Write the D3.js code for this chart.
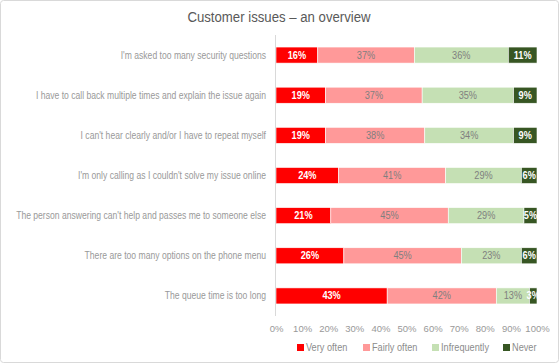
<!DOCTYPE html>
<html><head><meta charset="utf-8">
<script src="https://cdn.jsdelivr.net/npm/d3@7"></script>
<style>body{margin:0;background:#fff}svg{display:block}</style>
</head><body><svg id="c" width="559" height="363"></svg>
<script>
const categories = [
  "I'm asked too many security questions",
  "I have to call back multiple times and explain the issue again",
  "I can't hear clearly and/or I have to repeat myself",
  "I'm only calling as I couldn't solve my issue online",
  "The person answering can't help and passes me to someone else",
  "There are too many options on the phone menu",
  "The queue time is too long"
];
const seriesNames = ["Very often", "Fairly often", "Infrequently", "Never"];
const veryOften    = [16, 19, 19, 24, 21, 26, 42.6];
const fairlyOften  = [37, 37, 38, 41, 45, 45, 41.8];
const infrequently = [36, 35, 34, 29, 29, 23, 12.7];
const never        = [11, 9, 9, 6, 5, 6, 2.9];
const tickValues = [0,10,20,30,40,50,60,70,80,90,100];

const colors = ["#FF0000", "#FF9999", "#C5E0B4", "#375623"];
const labelColors = ["#ffffff", "#7f7f7f", "#7f7f7f", "#ffffff"];
const labelWeights = ["bold", "normal", "normal", "bold"];
const FONT = "'Liberation Sans',sans-serif";

const svg = d3.select("#c");
svg.append("rect").attr("x",0.5).attr("y",0.5).attr("width",558).attr("height",362)
  .attr("rx",3).attr("fill","#fff").attr("stroke","#d9d9d9");

// title, compressed horizontally to mimic a narrow font
const tg = svg.append("g").attr("transform","translate(279,22) scale(0.88,1)");
tg.append("text").attr("text-anchor","middle")
  .attr("font-family",FONT).attr("font-size",15).attr("fill","#595959")
  .text("Customer issues \u2013 an overview");

const x = d3.scaleLinear().domain([0,100]).range([276,537]);
const y = d3.scaleBand().domain(categories).range([35,316]).paddingInner(0.6).paddingOuter(0.3);

const data = categories.map((c,i)=>({cat:c, "Very often":veryOften[i], "Fairly often":fairlyOften[i], "Infrequently":infrequently[i], "Never":never[i]}));
const stack = d3.stack().keys(seriesNames)(data);

const g = svg.append("g");
stack.forEach((layer,si)=>{
  const lg = g.append("g");
  lg.selectAll("rect").data(layer).join("rect")
    .attr("x",d=>x(d[0])).attr("width",d=>x(d[1])-x(d[0]))
    .attr("y",d=>y(d.data.cat)).attr("height",y.bandwidth())
    .attr("fill",colors[si]).attr("stroke","#fff").attr("stroke-width",0.6);
  lg.selectAll("text").data(layer).join("text")
    .attr("transform",d=>`translate(${(x(d[0])+x(d[1]))/2},${y(d.data.cat)+y.bandwidth()/2+3.5}) scale(0.92,1)`)
    .attr("text-anchor","middle").attr("font-family",FONT).attr("font-size",10)
    .attr("font-weight",labelWeights[si]).attr("fill",labelColors[si])
    .text(d=>Math.round(d[1]-d[0])+"%");
});

// y axis line
svg.append("line").attr("x1",275.5).attr("x2",275.5).attr("y1",35).attr("y2",316)
  .attr("stroke","#d9d9d9");

// category labels (compressed horizontally)
svg.append("g").selectAll("text").data(categories).join("text")
  .attr("transform",d=>`translate(266,${y(d)+y.bandwidth()/2+3.5}) scale(0.86,1)`)
  .attr("text-anchor","end")
  .attr("font-family",FONT).attr("font-size",10).attr("fill","#999999").text(d=>d);

// x axis
const xAxis = d3.axisBottom(x).tickValues(tickValues).tickFormat(d=>d+"%").tickSize(0);
const ax = svg.append("g").attr("transform","translate(0,322)").call(xAxis);
ax.select(".domain").remove();
ax.selectAll("text").attr("font-family",FONT).attr("font-size",9.5).attr("fill","#999999");

// legend
const legX = [297, 363, 432, 503];
const lg = svg.append("g");
seriesNames.forEach((s,i)=>{
  lg.append("rect").attr("x",legX[i]).attr("y",344).attr("width",7).attr("height",7).attr("fill",colors[i]);
  lg.append("text").attr("transform",`translate(${legX[i]+9},351) scale(0.92,1)`)
    .attr("font-family",FONT).attr("font-size",10)
    .attr("fill","#8c8c8c").text(s);
});
</script></body></html>
